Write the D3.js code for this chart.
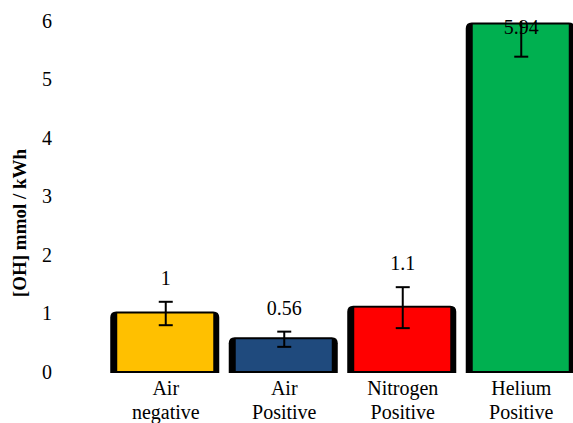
<!DOCTYPE html>
<html>
<head>
<meta charset="utf-8">
<script src="https://cdn.jsdelivr.net/npm/d3@7"></script>
<style>
  body { margin: 0; background: #fff; }
  svg { display: block; }
</style>
</head>
<body>
<div id="chart"></div>
<script>
var categories = [["Air", "negative"], ["Air", "Positive"], ["Nitrogen", "Positive"], ["Helium", "Positive"]];
var values = [1, 0.56, 1.1, 5.94];
var errors = [0.2, 0.13, 0.35, 0.55];
var valueLabels = ["1", "0.56", "1.1", "5.94"];
var colors = ["#FFC000", "#1F4A7D", "#FF0000", "#00B050"];
var yTicks = [0, 1, 2, 3, 4, 5, 6];

var width = 573, height = 423;
var font = "'Liberation Serif', 'Times New Roman', serif";

var svg = d3.select("#chart").append("svg")
    .attr("width", width)
    .attr("height", height)
    .style("background-color", "white");

var x = d3.scaleBand()
    .domain(d3.range(categories.length))
    .range([105.5, 579.5])
    .paddingInner(0.08)
    .paddingOuter(0.04);

var y = d3.scaleLinear()
    .domain([0, 6])
    .range([372, 21]);

// y axis (labels only)
var yAxis = svg.append("g")
    .attr("transform", "translate(52,0)")
    .call(d3.axisLeft(y).tickValues(yTicks).tickSize(0).tickPadding(0).tickFormat(d3.format("d")));
yAxis.select(".domain").remove();
yAxis.selectAll("text")
    .attr("font-family", font)
    .style("font-family", font)
    .style("font-size", "20px")
    .style("fill", "#000");

svg.append("text")
    .attr("transform", "translate(26,223) rotate(-90)")
    .style("text-anchor", "middle")
    .style("font-family", font)
    .style("font-size", "19px")
    .style("font-weight", "bold")
    .text("[OH] mmol / kWh");

var bars = svg.append("g").attr("class", "bars")
    .selectAll("g")
    .data(values)
    .enter()
    .append("g");

// black rounded backing
bars.append("path")
    .attr("fill", "#000")
    .attr("d", function(d, i) {
        var x0 = x(i), x1 = x(i) + x.bandwidth();
        var y0 = y(d) - 2, y1 = y(0) + 1, r = 6;
        return "M" + x0 + "," + y1 +
            "L" + x0 + "," + (y0 + r) +
            "Q" + x0 + "," + y0 + " " + (x0 + r) + "," + y0 +
            "L" + (x1 - r) + "," + y0 +
            "Q" + x1 + "," + y0 + " " + x1 + "," + (y0 + r) +
            "L" + x1 + "," + y1 + "Z";
    });

bars.append("rect")
    .attr("x", function(d, i) { return x(i) + 7; })
    .attr("y", function(d) { return y(d); })
    .attr("width", x.bandwidth() - 13)
    .attr("height", function(d) { return y(0) - 1 - y(d); })
    .attr("fill", function(d, i) { return colors[i]; });

// error bars
var err = svg.append("g").attr("class", "errors")
    .selectAll("g")
    .data(values)
    .enter()
    .append("g")
    .attr("stroke", "#000")
    .attr("stroke-width", 2);

function cx(i) { return x(i) + x.bandwidth() / 2 + 1; }
function errTop(d, i) { return y(Math.min(d + errors[i], 6)); }

err.append("line")
    .attr("x1", function(d, i) { return cx(i); })
    .attr("x2", function(d, i) { return cx(i); })
    .attr("y1", function(d, i) { return errTop(d, i); })
    .attr("y2", function(d, i) { return y(d - errors[i]); });
err.filter(function(d, i) { return d + errors[i] <= 6; })
    .append("line")
    .attr("x1", function(d, i) { return cx(i) - 7; })
    .attr("x2", function(d, i) { return cx(i) + 7; })
    .attr("y1", function(d, i) { return errTop(d, i); })
    .attr("y2", function(d, i) { return errTop(d, i); });
err.append("line")
    .attr("x1", function(d, i) { return cx(i) - 7; })
    .attr("x2", function(d, i) { return cx(i) + 7; })
    .attr("y1", function(d, i) { return y(d - errors[i]); })
    .attr("y2", function(d, i) { return y(d - errors[i]); });

// value labels
svg.append("g").attr("class", "labels")
    .selectAll("text")
    .data(values)
    .enter()
    .append("text")
    .attr("x", function(d, i) { return cx(i); })
    .attr("y", function(d, i) { return Math.max(errTop(d, i) - 17, 34); })
    .style("text-anchor", "middle")
    .style("font-family", font)
    .style("font-size", "20px")
    .style("fill", "#000")
    .text(function(d, i) { return valueLabels[i]; });

// category labels
var cat = svg.append("g").attr("class", "categories")
    .selectAll("text")
    .data(categories)
    .enter()
    .append("text")
    .style("text-anchor", "middle")
    .style("font-family", font)
    .style("font-size", "20px")
    .style("fill", "#000");
cat.selectAll("tspan")
    .data(function(d, i) { return d.map(function(t) { return { t: t, i: i }; }); })
    .enter()
    .append("tspan")
    .attr("x", function(d) { return cx(d.i); })
    .attr("y", function(d, j) { return 395 + j * 24; })
    .text(function(d) { return d.t; });
</script>
</body>
</html>
